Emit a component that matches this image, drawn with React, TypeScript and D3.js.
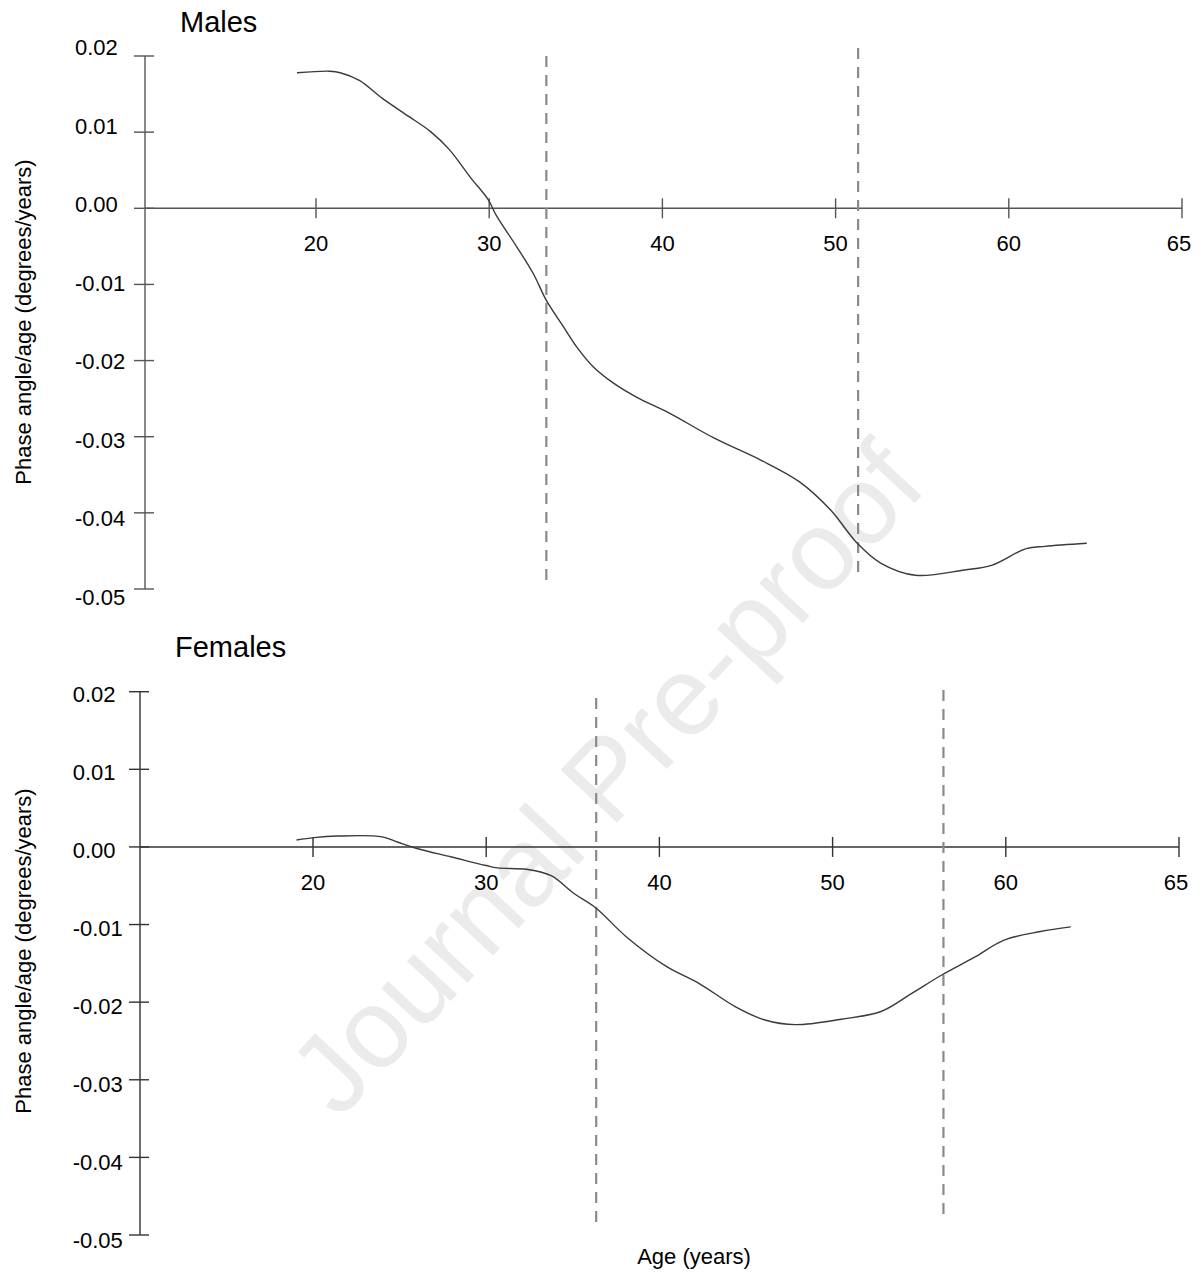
import React from "react";
import * as d3 from "d3";

const maleAge = [18.9, 20.8, 21.4, 22.5, 23.85, 25.4, 26.6, 27.7, 28.9, 29.95, 30.4, 31.6, 32.55, 33.3, 34.3, 35.05, 36.0, 37.2, 38.5, 40.4, 43.0, 45.7, 47.9, 49.7, 51.25, 52.6, 54.6, 57.45, 59.0, 61.0, 62.1, 64.5];
const maleVal = [0.0178, 0.018, 0.0178, 0.0168, 0.0144, 0.012, 0.0101, 0.0077, 0.0041, 0.0011, -0.0009, -0.0051, -0.0086, -0.0121, -0.0156, -0.0182, -0.0208, -0.023, -0.0248, -0.0269, -0.0302, -0.0331, -0.0359, -0.0396, -0.044, -0.0466, -0.0482, -0.0475, -0.0469, -0.0447, -0.0444, -0.044];

const femaleAge = [19.05, 20.05, 21.4, 24.0, 24.9, 26.0, 28.0, 30.0, 30.65, 32.4, 33.75, 35.07, 36.3, 38.1, 40.4, 42.3, 44.4, 46.1, 47.85, 50.5, 52.8, 54.55, 56.3, 58.2, 59.9, 62.0, 63.75];
const femaleVal = [0.0009, 0.0012, 0.0014, 0.0013, 0.0006, -0.0002, -0.0013, -0.0024, -0.0027, -0.0029, -0.0037, -0.006, -0.0078, -0.0116, -0.0154, -0.0176, -0.0206, -0.0223, -0.0229, -0.0222, -0.0212, -0.0189, -0.0165, -0.0142, -0.012, -0.0109, -0.0103];

const maleCutoffs = [33.3, 51.3];
const femaleCutoffs = [36.35, 56.4];

const xTickValues = [20, 30, 40, 50, 60, 70];
const xTickLabels = ["20", "30", "40", "50", "60", "65"];
const yTickValues = [0.02, 0.01, 0, -0.01, -0.02, -0.03, -0.04, -0.05];
const yTickLabels = ["0.02", "0.01", "0.00", "-0.01", "-0.02", "-0.03", "-0.04", "-0.05"];

const FONT = "'Liberation Sans', Arial, Helvetica, sans-serif";

type PanelProps = {
  title: string;
  ages: number[];
  vals: number[];
  cutoffs: number[];
  axisX: number;
  xRange: [number, number];
  yRange: [number, number];
  labelRange: [number, number];
  labelX: number;
  titlePos: [number, number];
  yLabelCenter: number;
  dashTop: number;
  dashBottom: number;
  axisColor: string;
};

function Panel(p: PanelProps) {
  const x = d3.scaleLinear().domain([20, 70]).range(p.xRange);
  const y = d3.scaleLinear().domain([0.02, -0.05]).range(p.yRange);
  const yLab = d3.scaleLinear().domain([0.02, -0.05]).range(p.labelRange);
  const data = p.ages.map((a, i) => [a, p.vals[i]] as [number, number]);
  const line = d3
    .line<[number, number]>()
    .x((d) => x(d[0]))
    .y((d) => y(d[1]))
    .curve(d3.curveCatmullRom.alpha(0.5));
  const y0 = y(0);
  const xEnd = x(70);
  return (
    <g>
      <text x={p.titlePos[0]} y={p.titlePos[1]} fontSize={29} fontFamily={FONT} fill="#000">
        {p.title}
      </text>
      <line x1={p.axisX} x2={p.axisX} y1={y(0.02)} y2={y(-0.05)} stroke={p.axisColor} strokeWidth={1.4} />
      {yTickValues.map((v, i) => (
        <g key={"yt" + i}>
          <line x1={p.axisX - 11} x2={p.axisX + 9} y1={y(v)} y2={y(v)} stroke={p.axisColor} strokeWidth={1.4} />
          <text x={p.labelX} y={yLab(v)} fontSize={22} fontFamily={FONT} fill="#000">
            {yTickLabels[i]}
          </text>
        </g>
      ))}
      <line x1={p.axisX} x2={xEnd} y1={y0} y2={y0} stroke={p.axisColor} strokeWidth={1.4} />
      {xTickValues.map((v, i) => (
        <g key={"xt" + i}>
          <line x1={x(v)} x2={x(v)} y1={y0 - 10} y2={y0 + 10} stroke={p.axisColor} strokeWidth={1.4} />
          <text x={x(v) - (i === xTickValues.length - 1 ? 3 : 0)} y={y0 + 43} fontSize={22} fontFamily={FONT} fill="#000" textAnchor="middle">
            {xTickLabels[i]}
          </text>
        </g>
      ))}
      <text
        transform={`translate(30.5,${p.yLabelCenter}) rotate(-90)`}
        fontSize={22}
        fontFamily={FONT}
        fill="#000"
        textAnchor="middle"
      >
        Phase angle/age (degrees/years)
      </text>
      {p.cutoffs.map((c, i) => (
        <line
          key={"c" + i}
          x1={x(c)}
          x2={x(c)}
          y1={i === 0 ? p.dashTop : p.dashTop - 8}
          y2={i === 0 ? p.dashBottom : p.dashBottom - 5}
          stroke="#8a8a8a"
          strokeWidth={2.2}
          strokeDasharray="11,8"
        />
      ))}
      <path d={line(data) || ""} fill="none" stroke="#3a3a3a" strokeWidth={1.4} />
    </g>
  );
}

export default function App() {
  return (
    <svg
      width={1202}
      height={1274}
      viewBox="0 0 1202 1274"
      style={{ position: "absolute", left: 0, top: 0, display: "block", background: "#fff" }}
    >
      <rect x={0} y={0} width={1202} height={1274} fill="#fff" />
      <text
        transform="translate(606,778) rotate(-47)"
        fontSize={112}
        fontFamily={FONT}
        fill="#ebebeb"
        textAnchor="middle"
        dominantBaseline="central"
      >
        Journal Pre-proof
      </text>
      <Panel
        title="Males"
        ages={maleAge}
        vals={maleVal}
        cutoffs={maleCutoffs}
        axisX={145}
        xRange={[316, 1182]}
        yRange={[56, 589]}
        labelRange={[55.3, 605]}
        labelX={75}
        titlePos={[180, 31.5]}
        yLabelCenter={322}
        dashTop={56}
        dashBottom={583}
        axisColor="#555"
      />
      <Panel
        title="Females"
        ages={femaleAge}
        vals={femaleVal}
        cutoffs={femaleCutoffs}
        axisX={140}
        xRange={[313, 1179]}
        yRange={[691.7, 1235]}
        labelRange={[701.7, 1247.7]}
        labelX={72.7}
        titlePos={[175, 657]}
        yLabelCenter={951}
        dashTop={698}
        dashBottom={1226}
        axisColor="#333"
      />
      <text x={694} y={1264} fontSize={22} fontFamily={FONT} fill="#000" textAnchor="middle">
        Age (years)
      </text>
    </svg>
  );
}
